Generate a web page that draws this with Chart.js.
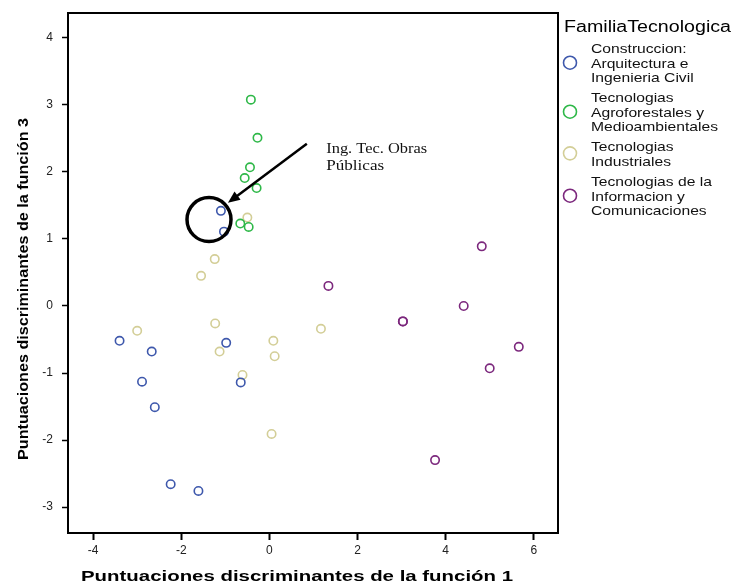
<!DOCTYPE html>
<html>
<head>
<meta charset="utf-8">
<script src="https://cdn.jsdelivr.net/npm/chart.js@4.4.0/dist/chart.umd.min.js"></script>
<style>
  html, body { margin: 0; padding: 0; background: #fff; }
  #wrap { width: 736px; height: 583px; }
</style>
</head>
<body>
<div id="wrap"><canvas id="myChart"></canvas></div>
<script>
// discriminant scores (función 1, función 3)
const construccionX = [-1.10, -1.03, -3.40, -2.67, -0.98, -2.89, -0.65, -2.60, -2.24, -1.61];
const construccionY = [1.42, 1.11, -0.52, -0.68, -0.55, -1.13, -1.14, -1.51, -2.66, -2.76];
const agroX = [-0.42, -0.27, -0.44, -0.56, -0.29, -0.66, -0.47];
const agroY = [3.08, 2.51, 2.07, 1.91, 1.76, 1.23, 1.18];
const industrialesX = [-0.50, -1.24, -1.55, -3.00, -1.23, -1.13, 0.09, 0.12, 1.17, -0.61, 0.05];
const industrialesY = [1.32, 0.70, 0.45, -0.37, -0.26, -0.68, -0.52, -0.75, -0.34, -1.03, -1.91];
const ticX = [1.34, 4.82, 4.41, 3.03, 3.03, 5.66, 5.00, 3.76];
const ticY = [0.30, 0.89, 0.00, -0.23, -0.23, -0.61, -0.93, -2.30];

const xTicks = [-4, -2, 0, 2, 4, 6];
const yTicks = [-3, -2, -1, 0, 1, 2, 3, 4];

const groups = [
  ["Construccion:", "Arquitectura e", "Ingenieria Civil"],
  ["Tecnologias", "Agroforestales y", "Medioambientales"],
  ["Tecnologias", "Industriales"],
  ["Tecnologias de la", "Informacion y", "Comunicaciones"]
];
const colors = ["#3E58AC", "#2EB848", "#D3CE97", "#7C287D"];

// annotation: circled case and arrow (in data units)
const noteCircle = { x: -1.37, y: 1.29 };
const noteArrow = { x1: 0.85, y1: 2.42, x2: -0.94, y2: 1.54 };
const noteText = { x: 1.29, y: 2.28, lines: ["Ing. Tec. Obras", "Públicas"] };

function pts(xs, ys) {
  return xs.map((v, i) => ({ x: v, y: ys[i] }));
}

function fitText(ctx, text, x, y, font, w, align) {
  ctx.save();
  ctx.font = font;
  const m = ctx.measureText(text).width;
  ctx.translate(x, y);
  ctx.scale(w / m, 1);
  ctx.textAlign = align || "left";
  ctx.fillText(text, 0, 0);
  ctx.restore();
}

const extras = {
  id: "extras",
  afterDraw(chart) {
    const ctx = chart.ctx;
    const a = chart.chartArea;
    const xs = chart.scales.x, ys = chart.scales.y;

    // box round the plot
    ctx.save();
    ctx.strokeStyle = "#000";
    ctx.lineWidth = 2;
    ctx.strokeRect(a.left, a.top, a.right - a.left, a.bottom - a.top);

    // axis titles
    ctx.fillStyle = "#000";
    ctx.textBaseline = "alphabetic";
    fitText(ctx, "Puntuaciones discriminantes de la función 1", 297, 581, "bold 15px Arial, 'Liberation Sans', sans-serif", 432, "center");
    ctx.save();
    ctx.translate(28, 289);
    ctx.rotate(-Math.PI / 2);
    fitText(ctx, "Puntuaciones discriminantes de la función 3", 0, 0, "bold 15px Arial, 'Liberation Sans', sans-serif", 342, "center");
    ctx.restore();

    // circle + arrow + note
    ctx.lineWidth = 3.5;
    ctx.beginPath();
    ctx.arc(xs.getPixelForValue(noteCircle.x), ys.getPixelForValue(noteCircle.y), 22, 0, Math.PI * 2);
    ctx.stroke();

    const x1 = xs.getPixelForValue(noteArrow.x1), y1 = ys.getPixelForValue(noteArrow.y1);
    const x2 = xs.getPixelForValue(noteArrow.x2), y2 = ys.getPixelForValue(noteArrow.y2);
    const ang = Math.atan2(y2 - y1, x2 - x1);
    ctx.lineWidth = 2.5;
    ctx.beginPath();
    ctx.moveTo(x1, y1);
    ctx.lineTo(x2 - 8 * Math.cos(ang), y2 - 8 * Math.sin(ang));
    ctx.stroke();
    ctx.beginPath();
    ctx.moveTo(x2, y2);
    ctx.lineTo(x2 - 13 * Math.cos(ang - 0.4), y2 - 13 * Math.sin(ang - 0.4));
    ctx.lineTo(x2 - 13 * Math.cos(ang + 0.4), y2 - 13 * Math.sin(ang + 0.4));
    ctx.closePath();
    ctx.fill();

    ctx.fillStyle = "#111";
    const tx = xs.getPixelForValue(noteText.x), ty = ys.getPixelForValue(noteText.y);
    fitText(ctx, noteText.lines[0], tx, ty, "14px 'Liberation Serif', 'Times New Roman', serif", 101, "left");
    fitText(ctx, noteText.lines[1], tx, ty + 17, "14px 'Liberation Serif', 'Times New Roman', serif", 58, "left");

    // legend
    ctx.fillStyle = "#000";
    fitText(ctx, "FamiliaTecnologica", 564, 32, "16px Arial, 'Liberation Sans', sans-serif", 167, "left");
    ctx.font = "13px Arial, 'Liberation Sans', sans-serif";
    const sx = 127 / ctx.measureText("Medioambientales").width;
    const itemY = [48, 97, 146, 181];
    groups.forEach((lines, gi) => {
      const top = itemY[gi];
      lines.forEach((t, li) => {
        ctx.save();
        ctx.translate(591, top + li * 14.7 + 5);
        ctx.scale(sx, 1);
        ctx.fillStyle = "#111";
        ctx.fillText(t, 0, 0);
        ctx.restore();
      });
      const cy = top + (lines.length - 1) * 14.7 / 2;
      ctx.strokeStyle = colors[gi];
      ctx.lineWidth = 1.6;
      ctx.beginPath();
      ctx.ellipse(570, cy, 6.5, 6.5, 0, 0, Math.PI * 2);
      ctx.stroke();
    });
    ctx.restore();
  }
};

const ds = (data, c) => ({
  data: data,
  borderColor: c,
  backgroundColor: "rgba(0,0,0,0)",
  pointRadius: 4.2,
  pointBorderWidth: 1.6,
  pointHoverRadius: 4.2
});

const chart1 = document.getElementById("myChart");
var myChart = new Chart(chart1, {
  type: "scatter",
  data: {
    datasets: [
      ds(pts(construccionX, construccionY), colors[0]),
      ds(pts(agroX, agroY), colors[1]),
      ds(pts(industrialesX, industrialesY), colors[2]),
      ds(pts(ticX, ticY), colors[3])
    ]
  },
  options: {
    responsive: true,
    maintainAspectRatio: false,
    animation: false,
    layout: { padding: { left: 0, right: 178, top: 13, bottom: 0 } },
    scales: {
      x: {
        type: "linear",
        min: -4.57,
        max: 6.55,
        afterBuildTicks: (s) => { s.ticks = xTicks.map(v => ({ value: v })); },
        afterFit: (s) => { s.height = 50; s.paddingLeft = 0; s.paddingRight = 0; },
        ticks: {
          color: "#222",
          font: { family: "Arial, 'Liberation Sans', sans-serif", size: 12 },
          padding: 3
        },
        grid: { drawOnChartArea: false, tickLength: 7, color: "#000", tickWidth: 2 },
        border: { display: false }
      },
      y: {
        type: "linear",
        min: -3.388,
        max: 4.373,
        afterBuildTicks: (s) => { s.ticks = yTicks.map(v => ({ value: v })); },
        afterFit: (s) => { s.width = 68; s.paddingTop = 0; s.paddingBottom = 0; },
        ticks: {
          color: "#222",
          font: { family: "Arial, 'Liberation Sans', sans-serif", size: 12 },
          padding: 9
        },
        grid: { drawOnChartArea: false, tickLength: 6, color: "#000", tickWidth: 1.5 },
        border: { display: false }
      }
    },
    plugins: {
      legend: { display: false },
      tooltip: { enabled: false }
    }
  },
  plugins: [extras]
});
</script>
</body>
</html>
